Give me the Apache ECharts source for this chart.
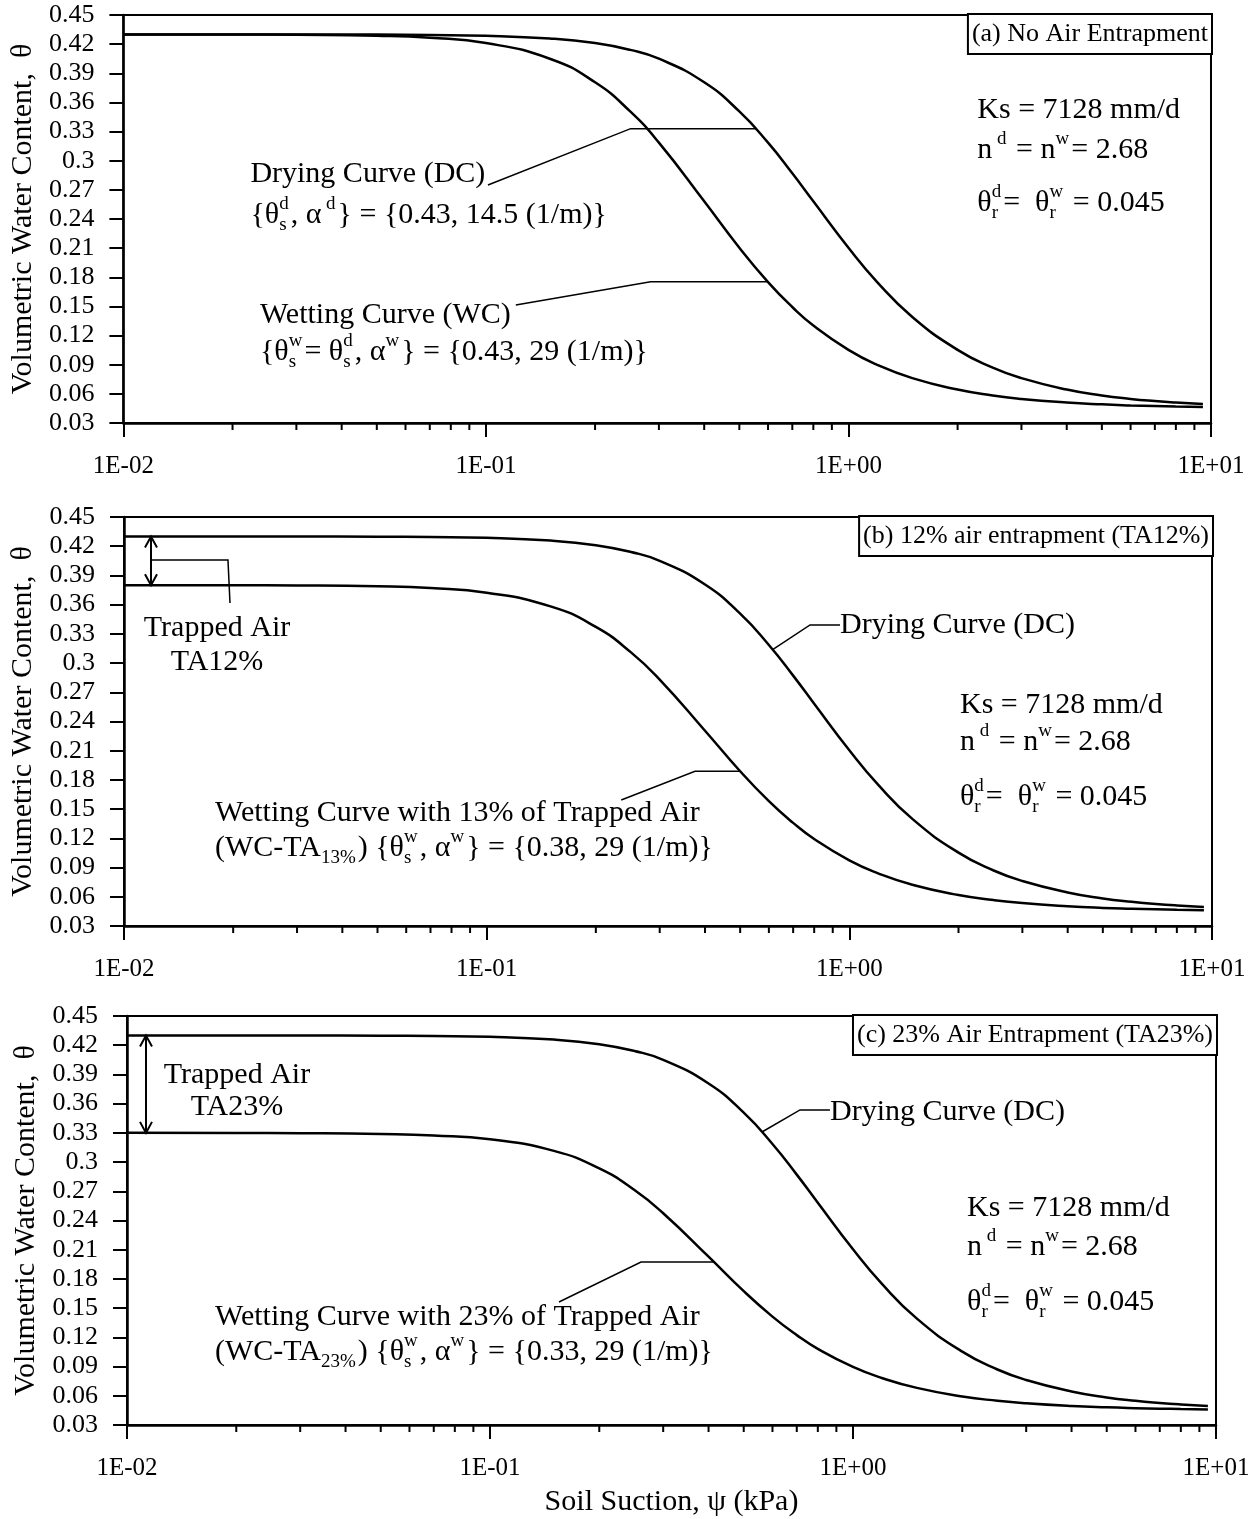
<!DOCTYPE html>
<html>
<head>
<meta charset="utf-8">
<script src="https://cdn.jsdelivr.net/npm/echarts@6/dist/echarts.min.js"></script>
<style>
  html, body { margin: 0; padding: 0; background: #fff; }
  #chart { width: 1255px; height: 1519px; }
</style>
</head>
<body>
<div id="chart"></div>
<script>
// Soil suction sample points (kPa)
const suction = [0.01, 0.02, 0.03, 0.05, 0.07, 0.1, 0.15, 0.2, 0.25, 0.3, 0.4, 0.5, 0.6, 0.7, 0.8,
                 1.0, 1.2, 1.5, 2, 2.5, 3, 4, 5, 6, 7, 8, 9.5];

// Drying curve (same in all three panels)
const dryingTheta = [0.430, 0.430, 0.430, 0.4298, 0.4294, 0.4286, 0.4258, 0.4211, 0.4141, 0.4050,
                     0.3807, 0.3507, 0.3186, 0.2871, 0.2582, 0.2104, 0.1751, 0.1392, 0.1053, 0.0870,
                     0.0762, 0.0644, 0.0583, 0.0548, 0.0526, 0.0511, 0.0496];

// Wetting curve, no air entrapment
const wettingThetaA = [0.430, 0.4299, 0.4296, 0.4286, 0.4265, 0.4211, 0.4050, 0.3807, 0.3507, 0.3186,
                       0.2582, 0.2104, 0.1751, 0.1494, 0.1304, 0.1053, 0.0899, 0.0762, 0.0644, 0.0583,
                       0.0548, 0.0511, 0.0492, 0.0481, 0.0474, 0.0469, 0.0464];

// Wetting curve with 13% trapped air
const wettingThetaB = [0.380, 0.3799, 0.3797, 0.3788, 0.3770, 0.3722, 0.3582, 0.3371, 0.3110, 0.2831,
                       0.2305, 0.1889, 0.1582, 0.1359, 0.1193, 0.0974, 0.0841, 0.0721, 0.0618, 0.0566,
                       0.0535, 0.0503, 0.0486, 0.0477, 0.0471, 0.0466, 0.0462];

// Wetting curve with 23% trapped air
const wettingThetaC = [0.330, 0.3299, 0.3297, 0.3289, 0.3274, 0.3234, 0.3115, 0.2935, 0.2713, 0.2475,
                       0.2028, 0.1674, 0.1413, 0.1223, 0.1082, 0.0896, 0.0783, 0.0681, 0.0593, 0.0549,
                       0.0523, 0.0495, 0.0481, 0.0473, 0.0468, 0.0464, 0.0460];

// Minor tick positions on the suction axis
const minorTickSuction = [0.02, 0.03, 0.04, 0.05, 0.06, 0.07, 0.08, 0.09,
                          0.2, 0.3, 0.4, 0.5, 0.6, 0.7, 0.8, 0.9,
                          2, 3, 4, 5, 6, 7, 8, 9];

const suctionRange = [0.01, 10];
const thetaRange = [0.03, 0.45];
const thetaStep = 0.03;

const panelTitles = ['(a) No Air Entrapment', '(b) 12% air entrapment (TA12%)', '(c) 23% Air Entrapment (TA23%)'];
const wettingSets = [wettingThetaA, wettingThetaB, wettingThetaC];

const FONT = "'Liberation Serif', 'Times New Roman', serif";
const BLACK = '#000';

const gridBoxes = [
  { left: 122, top: 15, width: 1089, height: 408 },
  { left: 124, top: 517, width: 1088, height: 409 },
  { left: 127, top: 1016, width: 1089, height: 409 }
];

function sciLabel(v) {
  const e = Math.round(Math.log10(v));
  return '1E' + (e < 0 ? '-' : '+') + String(Math.abs(e)).padStart(2, '0');
}

const chart = echarts.init(document.getElementById('chart'), null, { renderer: 'canvas' });

const grid = gridBoxes.map(g => Object.assign({ show: true, borderColor: BLACK, borderWidth: 2, containLabel: false }, g));

const xAxis = gridBoxes.map((g, i) => ({
  type: 'log', logBase: 10, gridIndex: i,
  min: suctionRange[0], max: suctionRange[1],
  axisLine: { show: true, onZero: false, lineStyle: { color: BLACK, width: 2.5 } },
  axisTick: { show: true, inside: false, length: 14, lineStyle: { color: BLACK, width: 2 } },
  axisLabel: { margin: 31, fontFamily: FONT, fontSize: 25, color: BLACK, formatter: sciLabel },
  splitLine: { show: false },
  name: i === 2 ? 'Soil Suction, \u03C8 (kPa)' : '',
  nameLocation: 'middle', nameGap: 62,
  nameTextStyle: { fontFamily: FONT, fontSize: 30, color: BLACK }
}));

const yAxis = gridBoxes.map((g, i) => ({
  type: 'value', gridIndex: i,
  min: thetaRange[0], max: thetaRange[1], interval: thetaStep,
  axisLine: { show: true, onZero: false, lineStyle: { color: BLACK, width: 2.5 } },
  axisTick: { show: true, inside: false, length: 14, lineStyle: { color: BLACK, width: 2 } },
  axisLabel: { margin: 29, fontFamily: FONT, fontSize: 26, color: BLACK,
               formatter: v => String(+v.toFixed(2)) },
  splitLine: { show: false },
  name: 'Volumetric Water Content,  \u03B8',
  nameLocation: 'middle', nameGap: 75, nameRotate: 90,
  nameTextStyle: { fontFamily: FONT, fontSize: 30, color: BLACK }
}));

const series = [];
gridBoxes.forEach((g, i) => {
  series.push({
    name: 'Drying Curve (DC)', type: 'line', xAxisIndex: i, yAxisIndex: i,
    data: suction.map((s, k) => [s, dryingTheta[k]]),
    showSymbol: false, symbol: 'none', smooth: 0.5,
    lineStyle: { color: BLACK, width: 2.5 }, silent: true
  });
  series.push({
    name: 'Wetting Curve', type: 'line', xAxisIndex: i, yAxisIndex: i,
    data: suction.map((s, k) => [s, wettingSets[i][k]]),
    showSymbol: false, symbol: 'none', smooth: 0.5,
    lineStyle: { color: BLACK, width: 2.5 }, silent: true
  });
  // short minor ticks below the suction axis
  series.push({
    type: 'custom', xAxisIndex: i, yAxisIndex: i, clip: false, silent: true,
    data: minorTickSuction.map(v => [v, thetaRange[0]]),
    renderItem: (params, api) => {
      const p = api.coord([api.value(0), api.value(1)]);
      return { type: 'line', shape: { x1: p[0], y1: p[1], x2: p[0], y2: p[1] + 7 },
               style: { stroke: BLACK, lineWidth: 2 } };
    }
  });
});

chart.setOption({ animation: false, backgroundColor: '#fff', grid, xAxis, yAxis, series });

// ---------- annotations ----------
const measureCtx = document.createElement('canvas').getContext('2d');
function textWidth(t, size) { measureCtx.font = size + 'px ' + FONT; return measureCtx.measureText(t).width; }
function px(gi, pt) { return chart.convertToPixel({ gridIndex: gi }, pt); }

const MAIN = 30, SCRIPT = 19;

function txt(x, y, t, size, align) {
  return { type: 'text', x, y, z: 50, silent: true,
           style: { text: t, fontSize: size, fontFamily: FONT, fill: BLACK,
                    align: align || 'left', verticalAlign: 'middle' } };
}

// Text with superscripts / subscripts, anchored at its left-middle point (data coords)
function formula(gi, anchor, parts, size) {
  size = size || MAIN;
  const [x0, yc] = px(gi, anchor);
  let x = x0; const els = [];
  parts.forEach(p => {
    if (typeof p === 'string') {
      els.push(txt(x, yc, p, size)); x += textWidth(p, size);
    } else {
      let w = 0;
      if (p.sup) { els.push(txt(x, yc - size * 0.38, p.sup, SCRIPT)); w = Math.max(w, textWidth(p.sup, SCRIPT)); }
      if (p.sub) { els.push(txt(x, yc + size * 0.34, p.sub, SCRIPT)); w = Math.max(w, textWidth(p.sub, SCRIPT)); }
      x += w + 2;
    }
  });
  return els;
}

function leader(gi, pts) {
  return { type: 'polyline', z: 40, silent: true,
           shape: { points: pts.map(p => px(gi, p)) },
           style: { stroke: BLACK, lineWidth: 1.5, fill: null } };
}

function doubleArrow(gi, s, thetaTop, thetaBottom) {
  const a = px(gi, [s, thetaTop]), b = px(gi, [s, thetaBottom]);
  const hw = 6, hl = 11;
  return [
    { type: 'line', z: 40, silent: true, shape: { x1: a[0], y1: a[1], x2: b[0], y2: b[1] },
      style: { stroke: BLACK, lineWidth: 2 } },
    { type: 'polyline', z: 40, silent: true,
      shape: { points: [[a[0] - hw, a[1] + hl], [a[0], a[1]], [a[0] + hw, a[1] + hl]] },
      style: { stroke: BLACK, lineWidth: 2, fill: null } },
    { type: 'polyline', z: 40, silent: true,
      shape: { points: [[b[0] - hw, b[1] - hl], [b[0], b[1]], [b[0] + hw, b[1] - hl]] },
      style: { stroke: BLACK, lineWidth: 2, fill: null } }
  ];
}

function titleBox(gi, title) {
  const c = px(gi, [suctionRange[1], thetaRange[1]]);
  return { type: 'text', x: c[0], y: c[1], z: 60, silent: true,
           style: { text: title, fontSize: 26, fontFamily: FONT, fill: BLACK,
                    align: 'right', verticalAlign: 'top', lineHeight: 28,
                    backgroundColor: '#fff', borderColor: BLACK, borderWidth: 2,
                    padding: [5, 3, 5, 3] } };
}

function paramBlock(gi, s, rows) {
  return [].concat(
    formula(gi, [s, rows[0]], ['Ks = 7128 mm/d']),
    formula(gi, [s, rows[1]], ['n', { sup: ' d' }, ' = n', { sup: 'w' }, '= 2.68']),
    formula(gi, [s, rows[2]], ['\u03B8', { sup: 'd', sub: 'r' }, '=  \u03B8', { sup: 'w', sub: 'r' }, ' = 0.045'])
  );
}

const TH = '\u03B8', AL = '\u03B1';
let g = [];

// Panel (a)
g.push(titleBox(0, panelTitles[0]));
g = g.concat(formula(0, [0.0224, 0.2863], ['Drying Curve (DC)']));
g = g.concat(formula(0, [0.0224, 0.2441], ['{' + TH, { sup: 'd', sub: 's' }, ', ' + AL, { sup: ' d' }, '} = {0.43, 14.5 (1/m)}']));
g = g.concat(formula(0, [0.0238, 0.1412], ['Wetting Curve (WC)']));
g = g.concat(formula(0, [0.0238, 0.1031], ['{' + TH, { sup: 'w', sub: 's' }, '= ' + TH, { sup: 'd', sub: 's' }, ', ' + AL, { sup: 'w' }, '} = {0.43, 29 (1/m)}']));
g.push(leader(0, [[0.1013, 0.275], [0.2507, 0.333], [0.555, 0.333]]));
g.push(leader(0, [[0.1209, 0.1515], [0.2847, 0.1755], [0.600, 0.1755]]));
g = g.concat(paramBlock(0, 2.267, [0.3522, 0.311, 0.2565]));

// Panel (b)
g.push(titleBox(1, panelTitles[1]));
g = g.concat(doubleArrow(1, 0.01187, 0.43, 0.38));
g.push(leader(1, [[0.01187, 0.4058], [0.01935, 0.4058], [0.0196, 0.3617]]));
g.push(txt(...px(1, [0.01805, 0.336]), 'Trapped Air', MAIN, 'center'));
g.push(txt(...px(1, [0.01805, 0.3011]), 'TA12%', MAIN, 'center'));
g = g.concat(formula(1, [0.9424, 0.3391], ['Drying Curve (DC)']));
g.push(leader(1, [[0.9424, 0.3391], [0.7792, 0.3391], [0.616, 0.314]]));
g = g.concat(paramBlock(1, 2.019, [0.2569, 0.2189, 0.1625]));
g = g.concat(formula(1, [0.01782, 0.146], ['Wetting Curve with 13% of Trapped Air']));
g = g.concat(formula(1, [0.01782, 0.110], ['(WC-TA', { sub: '13%' }, ') {' + TH, { sup: 'w', sub: 's' }, ', ' + AL, { sup: 'w' }, '} = {0.38, 29 (1/m)}']));
g.push(leader(1, [[0.235, 0.1594], [0.3753, 0.1889], [0.4994, 0.1889]]));

// Panel (c)
g.push(titleBox(2, panelTitles[2]));
g = g.concat(doubleArrow(2, 0.01128, 0.43, 0.33));
g.push(txt(...px(2, [0.02009, 0.3894]), 'Trapped Air', MAIN, 'center'));
g.push(txt(...px(2, [0.02009, 0.3566]), 'TA23%', MAIN, 'center'));
g = g.concat(formula(2, [0.8641, 0.3514], ['Drying Curve (DC)']));
g.push(leader(2, [[0.8641, 0.3535], [0.7145, 0.3535], [0.5614, 0.3309]]));
g = g.concat(paramBlock(2, 2.061, [0.2528, 0.2128, 0.1563]));
g = g.concat(formula(2, [0.01748, 0.1409], ['Wetting Curve with 23% of Trapped Air']));
g = g.concat(formula(2, [0.01748, 0.105], ['(WC-TA', { sub: '23%' }, ') {' + TH, { sup: 'w', sub: 's' }, ', ' + AL, { sup: 'w' }, '} = {0.33, 29 (1/m)}']));
g.push(leader(2, [[0.1549, 0.1563], [0.2606, 0.1974], [0.415, 0.1974]]));

chart.setOption({ graphic: { elements: g } });
</script>
</body>
</html>
